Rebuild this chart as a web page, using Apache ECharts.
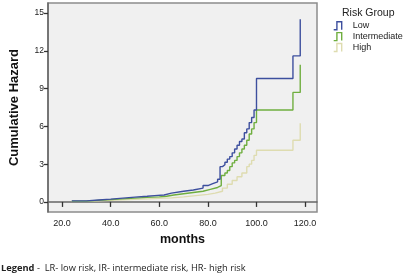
<!DOCTYPE html>
<html>
<head>
<meta charset="utf-8">
<script src="https://cdn.jsdelivr.net/npm/echarts@6/dist/echarts.min.js"></script>
<style>
  html, body { margin: 0; padding: 0; background: #fff; }
  #chart { width: 403px; height: 279px; }
</style>
</head>
<body>
<div id="chart"></div>
<script>
// 数据：各风险组的累积风险（阶梯函数）
var lowMonths = [24, 30, 35, 40, 45, 50, 55, 58, 62, 65, 70, 74, 78, 80, 82, 84, 85, 86, 87, 88, 89, 90, 91, 92, 93, 94, 95, 96, 97, 98, 99, 100, 115, 118];
var lowHazard = [0.08, 0.15, 0.22, 0.3, 0.38, 0.45, 0.5, 0.55, 0.7, 0.85, 0.95, 1.1, 1.3, 1.45, 1.6, 1.8, 2.8, 2.95, 3.15, 3.4, 3.6, 3.9, 4.2, 4.5, 4.8, 5.0, 5.5, 5.8, 6.3, 6.7, 7.3, 9.8, 11.6, 14.5];

var midMonths = [24, 30, 35, 40, 45, 50, 55, 60, 63, 66, 70, 74, 78, 81, 84, 85.5, 87, 88, 89, 90, 91, 92, 93, 94, 95, 96, 97, 98, 99, 100, 115, 118];
var midHazard = [0.06, 0.12, 0.18, 0.24, 0.3, 0.36, 0.4, 0.45, 0.55, 0.65, 0.75, 0.85, 1.0, 1.15, 1.3, 2.1, 2.3, 2.5, 2.8, 3.1, 3.3, 3.6, 3.9, 4.2, 4.5, 4.9, 5.4, 5.8, 6.3, 7.3, 8.7, 10.9];

var highMonths = [24, 30, 35, 40, 45, 50, 55, 60, 65, 70, 75, 80, 83, 86, 88, 90, 92, 94, 96, 97, 98, 99, 100, 115, 118];
var highHazard = [0.04, 0.08, 0.12, 0.16, 0.2, 0.24, 0.28, 0.32, 0.4, 0.5, 0.6, 0.7, 0.85, 1.1, 1.4, 1.7, 2.0, 2.3, 2.8, 3.0, 3.3, 3.7, 4.1, 4.9, 6.25];

var groupNames = ['Low', 'Intermediate', 'High'];
var groupColors = ['#3d4f9e', '#6fae3f', '#dedcb0'];
var xTicks = [20, 40, 60, 80, 100, 120];
var yTicks = [0, 3, 6, 9, 12, 15];

function pairs(xs, ys) {
  return xs.map(function (x, i) { return [x, ys[i]]; });
}

// 图例图标：小台阶
var stepIcon = 'path://M0,10 L4,10 L4,0 L10,0 L10,10';

var myChart = echarts.init(document.getElementById('chart'));

myChart.setOption({
  animation: false,
  textStyle: { fontFamily: 'Liberation Sans' },
  grid: {
    left: 48, right: 86, top: 3, bottom: 67,
    show: true,
    backgroundColor: '#f0f0f0',
    borderColor: '#8c8c8c',
    borderWidth: 1.5
  },
  xAxis: {
    type: 'value',
    min: 14.2, max: 124.9,
    name: 'months',
    nameLocation: 'middle',
    nameGap: 21,
    nameTextStyle: { fontSize: 12.5, fontWeight: 'bold', color: '#111' },
    axisLine: { show: true, lineStyle: { color: '#666', width: 1.5 } },
    axisTick: { show: true, customValues: xTicks, length: 5, lineStyle: { color: '#333', width: 1.3 } },
    axisLabel: {
      customValues: xTicks, fontSize: 9, color: '#222', margin: 7,
      formatter: function (v) { return v.toFixed(1); }
    },
    splitLine: { show: false }
  },
  yAxis: {
    type: 'value',
    min: -0.8, max: 15.8,
    name: 'Cumulative Hazard',
    nameLocation: 'middle',
    nameGap: 27,
    nameTextStyle: { fontSize: 13, fontWeight: 'bold', color: '#111' },
    axisLine: { show: true, lineStyle: { color: '#666', width: 1.5 } },
    axisTick: { show: true, customValues: yTicks, length: 4, lineStyle: { color: '#333', width: 1.3 } },
    axisLabel: { customValues: yTicks, fontSize: 8.5, color: '#222', margin: 4 },
    splitLine: { show: false }
  },
  legend: {
    orient: 'vertical',
    left: 333, top: 21, padding: 0,
    itemWidth: 8, itemHeight: 8, itemGap: 1.5,
    icon: stepIcon,
    textStyle: { fontSize: 9, color: '#222', padding: [0, 0, 0, 6] },
    data: groupNames.map(function (n, i) {
      return { name: n, itemStyle: { color: 'transparent', borderColor: groupColors[i], borderWidth: 1.4 } };
    })
  },
  graphic: [
    {
      type: 'text', left: 342, top: 8,
      style: { text: 'Risk Group', font: '10.5px "Liberation Sans"', fill: '#222' }
    },
    {
      type: 'text', left: 1, top: 264,
      style: {
        text: '{b|Legend} -  LR- low risk, IR- intermediate risk, HR- high risk',
        font: '9.3px "Open Sans"', fill: '#222',
        rich: { b: { fontWeight: 'bold', fontSize: 9.3, fontFamily: 'Open Sans' } }
      }
    }
  ],
  series: [
    { name: groupNames[0], type: 'line', step: 'end', showSymbol: false,
      data: pairs(lowMonths, lowHazard), color: groupColors[0], lineStyle: { width: 1.4 }, z: 3 },
    { name: groupNames[1], type: 'line', step: 'end', showSymbol: false,
      data: pairs(midMonths, midHazard), color: groupColors[1], lineStyle: { width: 1.4 }, z: 2 },
    { name: groupNames[2], type: 'line', step: 'end', showSymbol: false,
      data: pairs(highMonths, highHazard), color: groupColors[2], lineStyle: { width: 1.4 }, z: 1 }
  ]
});
</script>
</body>
</html>
